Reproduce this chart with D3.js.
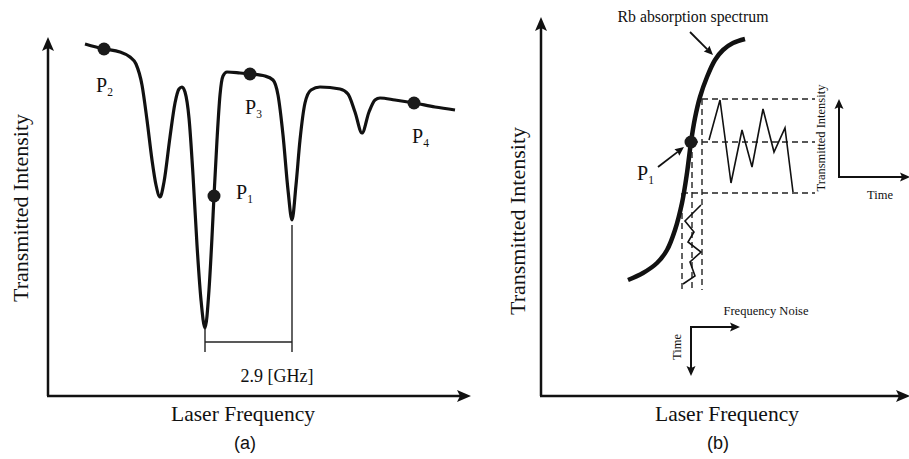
<!DOCTYPE html>
<html><head><meta charset="utf-8">
<script src="https://cdn.jsdelivr.net/npm/d3@7"></script>
<style>body{margin:0;background:#fff}svg{display:block}</style>
</head><body>
<script>
// ---- Panel (a): transmission spectrum (arbitrary units: frequency, intensity)
const spectrumFreq = [37,56,72,82,88,94,99,104,108,112,116,122,127,131,134,137,141,145,149,153,157,161,164,166,169,172,175,179,192,202,217,225,230,235,240,244,248,252,257,263,272,292,300,307,314,321,327,332,347,366,387,407];
const spectrumInt  = [352,347,344,339,332,311,276,236,211,199,214,259,293,307,309,304,278,221,151,96,68,106,159,200,256,301,320,324,323,322,320,316,301,261,206,176,211,256,293,306,309,307,302,284,263,284,296,298,296,293,289,286];
const pointLabels = ["P1","P2","P3","P4"];
const pointFreq = [166,56,202,366];
const pointInt  = [200,347,322,293];
const gapFreq = [157,244];          // dips separated by 2.9 GHz
const gapLabel = "2.9 [GHz]";

// ---- Panel (b): Rb absorption slope and noise
const slopeFreq = [87,102,116,126,134,141,146,150,154,159,166,174,182,192,204];
const slopeInt  = [116,123,133,146,166,193,223,254,278,299,319,336,346,353,357];
const lockFreq = 150, lockInt = 254;
const levelInt = [297,254,203];      // intensity extremes / set point
const levelFreq = [161,151,141];     // frequency extremes / set point
const intensityNoiseT = [168,179,190,201,211,222,233,244,252];
const intensityNoiseI = [256,296,213,266,229,287,244,268,204];
const freqNoiseF = [160,144,153,147,160,149,154,142];
const freqNoiseT = [191,175,164,154,144,134,120,112];

const W = 909, H = 459;
const svg = d3.select("body").append("svg").attr("width", W).attr("height", H);
const serif = "'Liberation Serif','Times New Roman',serif";
const sans = "'Liberation Sans',Arial,sans-serif";

function arrowHead(g, x1, y1, x2, y2, len, hw, notch) {
  const a = Math.atan2(y2 - y1, x2 - x1);
  const c = Math.cos(a), s = Math.sin(a);
  const bx = x2 - len * c, by = y2 - len * s;
  const nx = x2 - (len - notch) * c, ny = y2 - (len - notch) * s;
  g.append("path")
    .attr("d", `M${x2},${y2}L${bx - hw * s},${by + hw * c}L${nx},${ny}L${bx + hw * s},${by - hw * c}Z`)
    .attr("fill", "#111");
}
function arrowLine(g, x1, y1, x2, y2, w, len, hw, notch) {
  const a = Math.atan2(y2 - y1, x2 - x1);
  g.append("line").attr("x1", x1).attr("y1", y1)
    .attr("x2", x2 - (len - notch) * Math.cos(a)).attr("y2", y2 - (len - notch) * Math.sin(a))
    .attr("stroke", "#111").attr("stroke-width", w);
  arrowHead(g, x1, y1, x2, y2, len, hw, notch);
}
function pLabel(g, x, y, sub) {
  const t = g.append("text").attr("x", x).attr("y", y)
    .attr("font-family", serif).attr("font-size", 20).attr("fill", "#111");
  t.append("tspan").text("P");
  t.append("tspan").attr("font-size", 11.5).attr("dy", 4).text(sub);
}

// ================= Panel (a)
const xA = d3.scaleLinear().domain([0, 420]).range([48, 468]);
const yA = d3.scaleLinear().domain([0, 360]).range([396, 36]);
const gA = svg.append("g");

arrowLine(gA, xA(0), yA(0), xA(0), 37, 2.5, 14, 6, 3);
arrowLine(gA, xA(0) - 1, yA(0), 471, yA(0), 2.5, 14, 6, 3);

const lineA = d3.line().x((d, i) => xA(spectrumFreq[i])).y((d, i) => yA(spectrumInt[i])).curve(d3.curveMonotoneX);
gA.append("path").datum(spectrumFreq).attr("d", lineA)
  .attr("fill", "none").attr("stroke", "#111").attr("stroke-width", 3.2).attr("stroke-linejoin", "round");

// bracket for 2.9 GHz
const bracketY = 54, bracketBot = 44;
gA.append("line").attr("x1", xA(gapFreq[0])).attr("x2", xA(gapFreq[0]))
  .attr("y1", yA(68)).attr("y2", yA(bracketBot)).attr("stroke", "#222").attr("stroke-width", 1.4);
gA.append("line").attr("x1", xA(gapFreq[1])).attr("x2", xA(gapFreq[1]))
  .attr("y1", yA(171)).attr("y2", yA(bracketBot)).attr("stroke", "#222").attr("stroke-width", 1.4);
gA.append("line").attr("x1", xA(gapFreq[0])).attr("x2", xA(gapFreq[1]))
  .attr("y1", yA(bracketY)).attr("y2", yA(bracketY)).attr("stroke", "#222").attr("stroke-width", 1.4);
gA.append("text").attr("x", 277).attr("y", 382).attr("text-anchor", "middle")
  .attr("font-family", serif).attr("font-size", 18).attr("fill", "#111").text(gapLabel);

gA.selectAll("circle.pt").data(pointFreq).join("circle")
  .attr("cx", (d) => xA(d)).attr("cy", (d, i) => yA(pointInt[i])).attr("r", 6.5).attr("fill", "#1a1a1a");

pLabel(gA, 236, 199, "1");
pLabel(gA, 96, 92, "2");
pLabel(gA, 245, 114, "3");
pLabel(gA, 412, 143, "4");

gA.append("text").attr("transform", "translate(28,208) rotate(-90)").attr("text-anchor", "middle")
  .attr("font-family", serif).attr("font-size", 22).attr("fill", "#111").text("Transmitted Intensity");
gA.append("text").attr("x", 243).attr("y", 421).attr("text-anchor", "middle")
  .attr("font-family", serif).attr("font-size", 21.5).attr("fill", "#111").text("Laser Frequency");
gA.append("text").attr("x", 245).attr("y", 449).attr("text-anchor", "middle")
  .attr("font-family", sans).attr("font-size", 18).attr("fill", "#111").text("(a)");

// ================= Panel (b)
const xB = d3.scaleLinear().domain([0, 370]).range([541, 911]);
const yB = d3.scaleLinear().domain([0, 380]).range([396, 16]);
const gB = svg.append("g");

arrowLine(gB, xB(0), yB(0), xB(0), 17, 2.5, 14, 6, 3);
arrowLine(gB, xB(0) - 1, yB(0), 910, yB(0), 2.5, 14, 6, 3);

// dashed guides
const dash = "6,4";
levelInt.forEach((v, i) => {
  gB.append("line").attr("x1", xB(levelFreq[i])).attr("x2", xB(274))
    .attr("y1", yB(v)).attr("y2", yB(v))
    .attr("stroke", "#222").attr("stroke-width", 1.4).attr("stroke-dasharray", dash);
  gB.append("line").attr("x1", xB(levelFreq[i])).attr("x2", xB(levelFreq[i]))
    .attr("y1", yB(v)).attr("y2", yB(106))
    .attr("stroke", "#222").attr("stroke-width", 1.4).attr("stroke-dasharray", dash);
});

const lineB = d3.line().x((d, i) => xB(slopeFreq[i])).y((d, i) => yB(slopeInt[i])).curve(d3.curveCatmullRom);
gB.append("path").datum(slopeFreq).attr("d", lineB)
  .attr("fill", "none").attr("stroke", "#111").attr("stroke-width", 4.5).attr("stroke-linecap", "butt");

const lineI = d3.line().x((d, i) => xB(intensityNoiseT[i])).y((d, i) => yB(intensityNoiseI[i]));
gB.append("path").datum(intensityNoiseT).attr("d", lineI)
  .attr("fill", "none").attr("stroke", "#111").attr("stroke-width", 1.6);
const lineF = d3.line().x((d, i) => xB(freqNoiseF[i])).y((d, i) => yB(freqNoiseT[i]));
gB.append("path").datum(freqNoiseF).attr("d", lineF)
  .attr("fill", "none").attr("stroke", "#111").attr("stroke-width", 1.6);

gB.append("circle").attr("cx", xB(lockFreq)).attr("cy", yB(lockInt)).attr("r", 6.5).attr("fill", "#1a1a1a");

// annotations
arrowLine(gB, 690, 32, 713, 55, 1.8, 9, 4, 1);
gB.append("text").attr("x", 693).attr("y", 22).attr("text-anchor", "middle")
  .attr("font-family", serif).attr("font-size", 15.8).attr("fill", "#111").text("Rb absorption spectrum");
arrowLine(gB, 658, 167, 684, 147, 1.8, 9, 4, 1);
pLabel(gB, 637, 180, "1");

// inset axes: intensity vs time
arrowLine(gB, xB(298), yB(219), xB(298), yB(297), 2, 10, 4.5, 2);
arrowLine(gB, xB(297), yB(219), 910, yB(219), 2, 10, 4.5, 2);
gB.append("text").attr("transform", "translate(825,138) rotate(-90)").attr("text-anchor", "middle")
  .attr("font-family", serif).attr("font-size", 12.5).attr("fill", "#111").text("Transmitted Intensity");
gB.append("text").attr("x", 880).attr("y", 199).attr("text-anchor", "middle")
  .attr("font-family", serif).attr("font-size", 12.5).attr("fill", "#111").text("Time");

// inset axes: frequency noise vs time
arrowLine(gB, xB(150) - 1, yB(69), xB(199), yB(69), 2, 10, 4.5, 2);
arrowLine(gB, xB(150), yB(69) - 1, xB(150), yB(20), 2, 10, 4.5, 2);
gB.append("text").attr("x", 766).attr("y", 315).attr("text-anchor", "middle")
  .attr("font-family", serif).attr("font-size", 12.5).attr("fill", "#111").text("Frequency Noise");
gB.append("text").attr("transform", "translate(681,347) rotate(-90)").attr("text-anchor", "middle")
  .attr("font-family", serif).attr("font-size", 12.5).attr("fill", "#111").text("Time");

gB.append("text").attr("transform", "translate(525,221) rotate(-90)").attr("text-anchor", "middle")
  .attr("font-family", serif).attr("font-size", 22).attr("fill", "#111").text("Transmitted Intensity");
gB.append("text").attr("x", 727).attr("y", 421).attr("text-anchor", "middle")
  .attr("font-family", serif).attr("font-size", 21.5).attr("fill", "#111").text("Laser Frequency");
gB.append("text").attr("x", 718).attr("y", 449).attr("text-anchor", "middle")
  .attr("font-family", sans).attr("font-size", 18).attr("fill", "#111").text("(b)");
</script>
</body></html>
